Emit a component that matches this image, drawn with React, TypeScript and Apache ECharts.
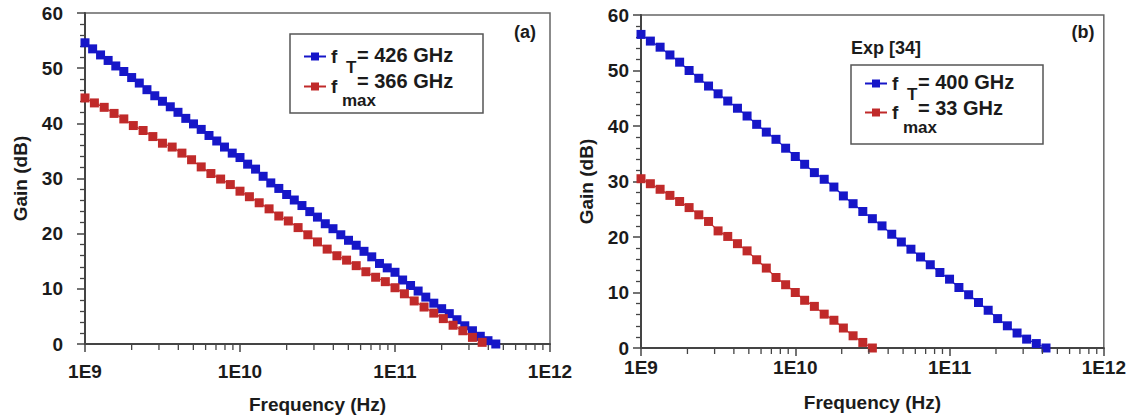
import React, { useEffect, useRef } from "react";
import * as echarts from "echarts";

// ---------- data ----------
// Panel (a) – f_T curve
const A_FT_FREQ = [
  1.0e9, 1.12e9, 1.26e9, 1.41e9, 1.58e9, 1.78e9, 2.0e9, 2.24e9, 2.51e9, 2.82e9,
  3.16e9, 3.55e9, 3.98e9, 4.47e9, 5.01e9, 5.62e9, 6.31e9, 7.08e9, 7.94e9, 8.91e9,
  1.0e10, 1.12e10, 1.26e10, 1.41e10, 1.58e10, 1.78e10, 2.0e10, 2.24e10, 2.51e10, 2.82e10,
  3.16e10, 3.55e10, 3.98e10, 4.47e10, 5.01e10, 5.62e10, 6.31e10, 7.08e10, 7.94e10, 8.91e10,
  1.0e11, 1.12e11, 1.26e11, 1.41e11, 1.58e11, 1.78e11, 2.0e11, 2.24e11, 2.51e11, 2.82e11,
  3.16e11, 3.55e11, 3.98e11, 4.47e11,
];
const A_FT_GAIN = [
  54.6, 53.5, 52.4, 51.4, 50.4, 49.4, 48.3, 47.3, 46.1, 45.0,
  44.0, 43.0, 42.0, 40.9, 39.9, 38.9, 37.8, 36.8, 35.7, 34.6,
  33.8, 32.6, 31.7, 30.4, 29.2, 28.2, 27.1, 26.1, 25.1, 24.0,
  23.0, 21.8, 20.9, 19.8, 18.8, 17.9, 16.8, 15.8, 14.6, 13.8,
  13.0, 11.6, 10.6, 9.6, 8.5, 7.4, 6.4, 5.5, 4.4, 3.3,
  2.4, 1.4, 0.6, 0.0,
];
// Panel (a) – f_max curve
const A_FMAX_FREQ = [
  1.0e9, 1.15e9, 1.33e9, 1.54e9, 1.78e9, 2.05e9, 2.37e9, 2.74e9, 3.16e9, 3.65e9,
  4.22e9, 4.87e9, 5.62e9, 6.49e9, 7.5e9, 8.66e9,
  1.0e10, 1.15e10, 1.33e10, 1.54e10, 1.78e10, 2.05e10, 2.37e10, 2.74e10, 3.16e10, 3.65e10,
  4.22e10, 4.87e10, 5.62e10, 6.49e10, 7.5e10, 8.66e10,
  1.0e11, 1.15e11, 1.33e11, 1.54e11, 1.78e11, 2.05e11, 2.37e11, 2.74e11, 3.16e11, 3.65e11,
];
const A_FMAX_GAIN = [
  44.6, 43.7, 42.9, 41.8, 40.8, 39.6, 38.7, 37.6, 36.4, 35.7,
  34.6, 33.4, 32.1, 30.9, 29.9, 28.9,
  27.7, 26.7, 25.6, 24.5, 23.2, 22.3, 21.1, 19.8, 18.5, 17.2,
  16.0, 15.2, 14.2, 13.1, 12.1, 11.3,
  10.2, 9.1, 7.8, 6.7, 5.6, 4.6, 3.4, 2.4, 1.2, 0.3,
];
// Panel (b) – f_T curve (Exp [34])
const B_FT_FREQ = [
  1.0e9, 1.15e9, 1.33e9, 1.54e9, 1.78e9, 2.05e9, 2.37e9, 2.74e9, 3.16e9, 3.65e9,
  4.22e9, 4.87e9, 5.62e9, 6.49e9, 7.5e9, 8.66e9,
  1.0e10, 1.15e10, 1.33e10, 1.54e10, 1.78e10, 2.05e10, 2.37e10, 2.74e10, 3.16e10, 3.65e10,
  4.22e10, 4.87e10, 5.62e10, 6.49e10, 7.5e10, 8.66e10,
  1.0e11, 1.15e11, 1.33e11, 1.54e11, 1.78e11, 2.05e11, 2.37e11, 2.74e11, 3.16e11, 3.65e11,
  4.22e11,
];
const B_FT_GAIN = [
  56.5, 55.3, 54.2, 52.8, 51.5, 50.0, 48.6, 47.2, 45.8, 44.5,
  43.2, 41.8, 40.3, 38.9, 37.6, 36.0,
  34.5, 33.1, 31.6, 30.4, 29.0, 27.4, 26.0, 24.6, 23.3, 22.0,
  20.5, 19.1, 17.8, 16.4, 15.0, 13.6,
  12.4, 10.9, 9.6, 8.2, 6.8, 5.3, 4.0, 2.7, 1.6, 0.8,
  0.0,
];
// Panel (b) – f_max curve (Exp [34])
const B_FMAX_FREQ = [
  1.0e9, 1.15e9, 1.33e9, 1.54e9, 1.78e9, 2.05e9, 2.37e9, 2.74e9, 3.16e9, 3.65e9,
  4.22e9, 4.87e9, 5.62e9, 6.49e9, 7.5e9, 8.66e9,
  1.0e10, 1.15e10, 1.33e10, 1.54e10, 1.78e10, 2.05e10, 2.37e10, 2.74e10, 3.16e10,
];
const B_FMAX_GAIN = [
  30.5, 29.6, 28.6, 27.5, 26.4, 25.3, 24.0, 22.8, 21.1, 20.1,
  18.8, 17.5, 15.9, 14.4, 12.7, 11.4,
  10.0, 8.6, 7.5, 6.1, 5.0, 3.6, 2.2, 1.0, 0.0,
];

const LEGEND_SYMBOL = "f";
const A_FT_VALUE = "= 426 GHz";
const A_FMAX_VALUE = "= 366 GHz";
const B_FT_VALUE = "= 400 GHz";
const B_FMAX_VALUE = "= 33 GHz";
const SUB_T = "T";
const SUB_MAX = "max";
const PANEL_A = "(a)";
const PANEL_B = "(b)";
const EXP_NOTE = "Exp [34]";
const X_NAME = "Frequency (Hz)";
const Y_NAME = "Gain (dB)";

const Y_MIN = 0;
const Y_MAX = 60;
const Y_INTERVAL = 10;
const X_MIN = 1e9;
const X_MAX = 1e12;
const X_MINOR_FREQ = [
  2e9, 3e9, 4e9, 5e9, 6e9, 7e9, 8e9, 9e9,
  2e10, 3e10, 4e10, 5e10, 6e10, 7e10, 8e10, 9e10,
  2e11, 3e11, 4e11, 5e11, 6e11, 7e11, 8e11, 9e11,
];

const BLUE = "#1616c8";
const RED = "#c02a2a";
const INK = "#1b1b1b";
const AXIS = "#444";
const FONT = "'Liberation Sans', Arial, sans-serif";

const zip = (xs: number[], ys: number[]) => xs.map((x, i) => [x, ys[i]]);

export default function App() {
  const ref = useRef<HTMLDivElement>(null);

  useEffect(() => {
    if (!ref.current) return;
    const chart = echarts.init(ref.current, undefined, { renderer: "svg" });

    const textBase = { fontFamily: FONT, fontWeight: "bold" as const, color: INK };

    const grids = [
      { left: 85, top: 13, width: 465, height: 331 },
      { left: 641, top: 15, width: 465, height: 333 },
    ];
    const xLabelMargin = [18, 10];
    const xNameGap = [51, 45];
    const yLabelMargin = [22, 12];
    const yNameGap = [55, 45];

    const mainX = (gi: number) => ({
      type: "log",
      gridIndex: gi,
      logBase: 10,
      min: X_MIN,
      max: X_MAX,
      name: X_NAME,
      nameLocation: "middle",
      nameGap: xNameGap[gi],
      nameTextStyle: { ...textBase, fontSize: 19 },
      axisLine: { show: true, lineStyle: { color: AXIS, width: 2 } },
      axisTick: { show: true, inside: false, length: 8, lineStyle: { color: AXIS, width: 1.5 } },
      axisLabel: {
        ...textBase,
        fontSize: 19,
        margin: xLabelMargin[gi],
        showMinLabel: true,
        showMaxLabel: true,
        formatter: (v: number) => "1E" + Math.round(Math.log10(v)),
      },
      splitLine: { show: false },
    });
    const yAx = (gi: number) => ({
      type: "value",
      gridIndex: gi,
      min: Y_MIN,
      max: Y_MAX,
      interval: Y_INTERVAL,
      name: Y_NAME,
      nameLocation: "middle",
      nameGap: yNameGap[gi],
      nameRotate: 90,
      nameTextStyle: { ...textBase, fontSize: 19 },
      axisLine: { show: true, lineStyle: { color: AXIS, width: 2 } },
      axisTick: { show: true, inside: false, length: 8, lineStyle: { color: AXIS, width: 1.5 } },
      minorTick: { show: true, splitNumber: 5, length: 5, lineStyle: { color: AXIS, width: 1.3 } },
      axisLabel: { ...textBase, fontSize: 19, margin: yLabelMargin[gi] },
      splitLine: { show: false },
      minorSplitLine: { show: false },
    });

    const mkSeries = (name: string, gi: number, xs: number[], ys: number[], color: string) => ({
      name,
      type: "line",
      xAxisIndex: gi,
      yAxisIndex: gi,
      data: zip(xs, ys),
      symbol: "rect",
      symbolSize: 9,
      showSymbol: true,
      itemStyle: { color },
      lineStyle: { color, width: 1.2 },
      clip: false,
      z: 3,
    });

    // minor (2..9) ticks of the log frequency axis, placed through the axis scale
    const minorTicks = (gi: number) => ({
      type: "custom",
      xAxisIndex: gi,
      yAxisIndex: gi,
      clip: false,
      silent: true,
      z: 4,
      data: X_MINOR_FREQ.map((f) => [f, Y_MIN]),
      renderItem: (_p: any, api: any) => {
        const pt = api.coord([api.value(0), api.value(1)]);
        return {
          type: "line",
          shape: { x1: pt[0], y1: pt[1] + 1, x2: pt[0], y2: pt[1] + 6 },
          style: { stroke: AXIS, lineWidth: 1.3 },
        };
      },
    });

    const mkLegend = (names: string[], left: number, top: number, gap: number) => ({
      orient: "vertical",
      left,
      top,
      padding: 0,
      itemGap: gap,
      itemWidth: 22,
      itemHeight: 10,
      itemTextGap: 14,
      selectedMode: false,
      data: names,
      formatter: () => LEGEND_SYMBOL,
      textStyle: { fontFamily: FONT, fontWeight: "bold", fontSize: 19, color: INK, lineHeight: 16 },
    });

    const txt = (x: number, y: number, text: string, size: number, align = "left") => ({
      type: "text",
      x,
      y,
      style: {
        text,
        fontFamily: FONT,
        fontWeight: "bold",
        fontSize: size,
        fill: INK,
        align,
        verticalAlign: "middle",
      },
      z: 20,
    });
    const box = (x: number, y: number, w: number, h: number) => ({
      type: "rect",
      shape: { x, y, width: w, height: h },
      style: { fill: "none", stroke: "#555", lineWidth: 1.5 },
      z: 5,
    });

    chart.setOption({
      animation: false,
      backgroundColor: "#fff",
      grid: grids.map((g) => ({
        ...g,
        show: true,
        borderColor: "#666",
        borderWidth: 1.5,
        backgroundColor: "transparent",
        containLabel: false,
      })),
      xAxis: [mainX(0), mainX(1)],
      yAxis: [yAx(0), yAx(1)],
      legend: [
        mkLegend(["a_fT", "a_fmax"], 303, 47, 11),
        mkLegend(["b_fT", "b_fmax"], 864, 74, 10),
      ],
      series: [
        mkSeries("a_fT", 0, A_FT_FREQ, A_FT_GAIN, BLUE),
        mkSeries("a_fmax", 0, A_FMAX_FREQ, A_FMAX_GAIN, RED),
        mkSeries("b_fT", 1, B_FT_FREQ, B_FT_GAIN, BLUE),
        mkSeries("b_fmax", 1, B_FMAX_FREQ, B_FMAX_GAIN, RED),
        minorTicks(0),
        minorTicks(1),
      ],
      graphic: [
        box(290, 34, 193, 79),
        box(851, 65, 192, 79),
        // panel (a) legend texts
        txt(346, 67, SUB_T, 17),
        txt(357, 55, A_FT_VALUE, 20),
        txt(342, 100, SUB_MAX, 17),
        txt(357, 81, A_FMAX_VALUE, 20),
        // panel (b) legend texts
        txt(907, 94, SUB_T, 17),
        txt(918, 82, B_FT_VALUE, 20),
        txt(903, 127, SUB_MAX, 17),
        txt(918, 108, B_FMAX_VALUE, 20),
        txt(525, 32, PANEL_A, 18, "center"),
        txt(1083, 32, PANEL_B, 18, "center"),
        txt(851, 48, EXP_NOTE, 18),
      ],
    });

    return () => chart.dispose();
  }, []);

  return (
    <div
      ref={ref}
      style={{ position: "fixed", left: 0, top: 0, width: 1129, height: 420, background: "#fff" }}
    />
  );
}
